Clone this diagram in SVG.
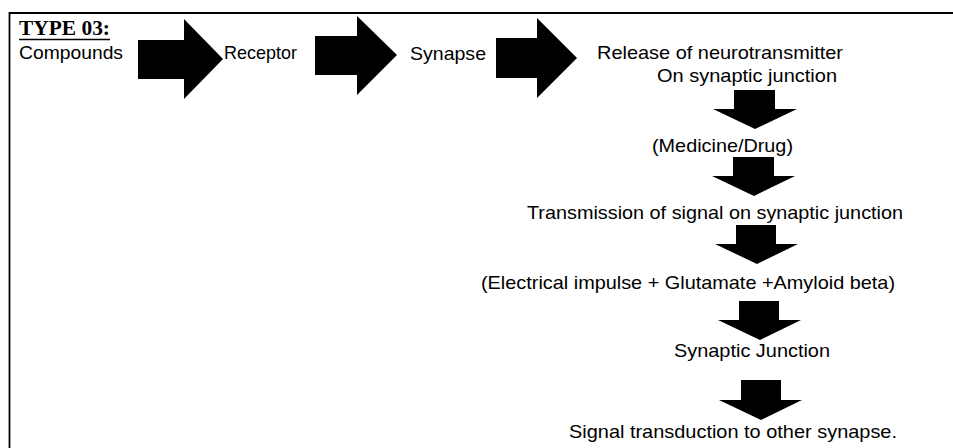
<svg xmlns="http://www.w3.org/2000/svg" width="953" height="448" viewBox="0 0 953 448">
<style>
.t{font-family:"Liberation Sans",Arial,sans-serif;font-size:19px;fill:#000}
.h{font-family:"Liberation Serif","Times New Roman",serif;font-size:20px;font-weight:bold;fill:#000}
.a{fill:#000}
</style>
<rect width="953" height="448" fill="#fff"/>
<g id="frame">
<path d="M9.5 448V13H953" fill="none" stroke="#000" stroke-width="1.8"/>
</g>
<g id="title">
<text class="h" x="19" y="35" textLength="91" lengthAdjust="spacingAndGlyphs">TYPE 03:</text>
<line x1="19" y1="39.5" x2="110" y2="39.5" stroke="#000" stroke-width="1.3"/>
</g>
<g id="n-compounds"><text class="t" x="19" y="59" textLength="104" lengthAdjust="spacingAndGlyphs">Compounds</text></g>
<g id="n-receptor"><text class="t" x="224" y="59" textLength="73" lengthAdjust="spacingAndGlyphs">Receptor</text></g>
<g id="n-synapse"><text class="t" x="410" y="60" textLength="76" lengthAdjust="spacingAndGlyphs">Synapse</text></g>
<g id="n-release">
<text class="t" x="597" y="59" textLength="246" lengthAdjust="spacingAndGlyphs">Release of neurotransmitter</text>
<text class="t" x="657" y="82" textLength="180" lengthAdjust="spacingAndGlyphs">On synaptic junction</text>
</g>
<g id="n-medicine"><text class="t" x="652" y="152" textLength="141" lengthAdjust="spacingAndGlyphs">(Medicine/Drug)</text></g>
<g id="n-transmission"><text class="t" x="527" y="219" textLength="376" lengthAdjust="spacingAndGlyphs">Transmission of signal on synaptic junction</text></g>
<g id="n-electrical"><text class="t" x="481" y="289" textLength="414" lengthAdjust="spacingAndGlyphs">(Electrical impulse + Glutamate +Amyloid beta)</text></g>
<g id="n-junction"><text class="t" x="674" y="357" textLength="156" lengthAdjust="spacingAndGlyphs">Synaptic Junction</text></g>
<g id="n-signal"><text class="t" x="569" y="438" textLength="328" lengthAdjust="spacingAndGlyphs">Signal transduction to other synapse.</text></g>
<g id="connectors">
<polygon class="a" points="138,40 184,40 184,19 223,59 184,99 184,79 138,79"/>
<polygon class="a" points="315,36 357,36 357,16 397,55 357,95 357,75 315,75"/>
<polygon class="a" points="496,38 537,38 537,18 577,58 537,98 537,78 496,78"/>
<polygon class="a" points="734,90 775,90 775,109 797,109 755,129 713,109 734,109"/>
<polygon class="a" points="733,157 774,157 774,176 795,176 754,196 712,176 733,176"/>
<polygon class="a" points="736,225 776,225 776,244 798,244 757,264 715,244 736,244"/>
<polygon class="a" points="739,301 779,301 779,320 801,320 760,340 718,320 739,320"/>
<polygon class="a" points="741,380 781,380 781,400 802,400 761,420 719,400 741,400"/>
</g>
</svg>
